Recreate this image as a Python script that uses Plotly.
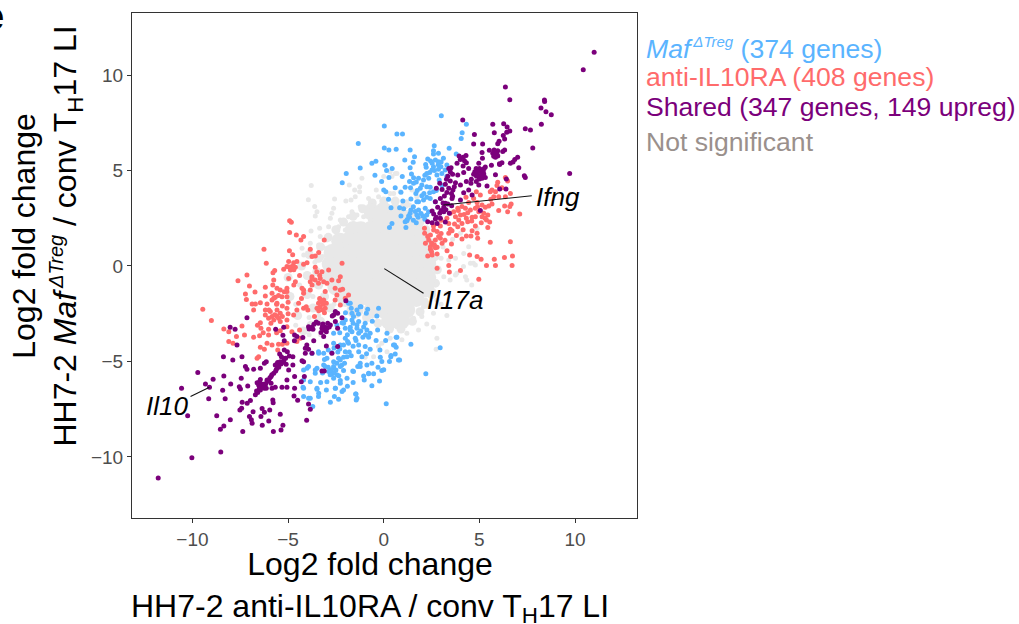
import plotly.graph_objects as go

tick_values = [-10, -5, 0, 5, 10]

shared_up = [(11.0,11.2),(10.43,10.28),(6.36,9.37),(6.59,8.71),(8.4,8.69),(8.41,8.62),(8.22,8.27),(8.48,8.08),(8.76,7.92),(8.24,7.42),
(7.4,7.19),(7.67,7.12),(4.13,7.64),(5.7,7.42),(6.27,7.45),(6.45,7.28),(6.59,7.07),(6.43,7.0),(5.78,6.98),(6.25,6.84),(4.74,6.89),
(6.32,6.65),(6.03,6.53),(5.96,6.4),(4.7,6.39),(5.17,6.39),(7.79,6.18),(5.52,6.06),(5.77,6.07),(5.96,6.04),(6.22,6.0),(6.32,6.07),
(5.14,5.95),(5.7,5.9),(5.92,5.85),(5.84,5.69),(5.96,5.76),(7.0,5.69),(6.85,5.58),(6.76,5.45),(6.62,5.38),(7.06,5.15),(3.94,5.76),
(4.3,5.78),(4.0,5.58),(4.22,5.51),(4.32,5.41),(5.16,5.64),(4.97,5.38),(4.83,5.11),(5.0,5.11),(5.31,5.18),(5.63,5.27),(6.06,5.32),
(6.18,5.41),(5.84,4.78),(6.41,4.55),(7.35,4.73),(7.4,4.64),(9.72,4.85),(4.76,4.94),(4.88,4.85),(5.09,4.94),(4.7,4.8),(5.23,4.82),
(5.31,4.64),(5.14,4.59),(4.97,4.71),(4.58,4.54),(4.32,4.42),(4.84,4.42),(4.97,4.24),(5.4,4.19),(4.56,4.33),(4.01,4.24),(3.75,4.36),
(3.48,4.45),(3.22,4.28),(2.93,4.33),(3.69,4.15),(3.4,4.07),(3.62,3.98),(2.75,4.07),(4.44,3.98),(4.18,3.84),(4.62,3.72),(6.06,4.03),
(6.39,4.03),(3.54,3.8),(2.96,3.54),(2.7,3.37),(3.17,3.66),(3.57,3.54),(4.01,3.46),(3.22,3.28),(3.14,3.07),(2.82,3.07),(2.53,2.88),
(2.61,2.72),(2.93,2.76),(3.14,2.84),(3.43,2.76),(5.05,2.9),(2.3,2.32),(2.53,2.27),(2.79,2.23),(3.22,2.3),(2.96,2.5),(2.7,2.46),
(3.83,5.38),(3.4,5.11),(3.52,5.15),(3.48,4.94),(4.18,4.89),(3.87,4.76),(3.28,4.54),(4.15,5.24),(4.44,5.11),
(5.05,5.05),(5.2,4.95),(4.95,4.95),(5.15,4.75),(4.85,4.7),(5.0,4.55),(5.25,5.1),(4.15,5.7),(5.75,5.75),(5.85,5.95),(6.05,5.35),
(3.35,3.25),(3.1,3.3),(3.25,2.95),(3.0,2.9),(3.55,3.15),(3.6,4.8),(3.35,4.7),(3.6,3.65),(3.05,4.0),(3.3,3.85),(2.75,2.55)]

shared_down = [(-11.79,-11.1),(-10.03,-10.05),(-8.52,-9.74),(-9.72,-5.58),(-10.57,-6.4),(-10.25,-7.85),(-9.15,-6.95),(-9.11,-6.35),
(-9.32,-6.18),(-8.92,-5.93),(-8.36,-5.76),(-8.38,-4.75),(-7.41,-4.75),(-7.89,-4.92),(-8.0,-6.18),(-8.42,-6.51),(-8.29,-6.96),
(-7.55,-6.32),(-7.49,-6.44),(-7.11,-6.28),(-8.73,-7.85),(-8.02,-8.05),(-8.36,-8.38),(-8.54,-8.55),(-7.37,-8.67),(-7.02,-7.89),
(-6.83,-7.63),(-6.92,-8.06),(-6.88,-8.24),(-6.35,-8.34),(-6.01,-8.12),(-6.24,-7.66),(-6.42,-7.89),(-5.96,-7.54),(-5.41,-7.77),
(-5.27,-8.34),(-5.37,-8.59),(-5.77,-8.67),(-7.52,-7.54),(-7.43,-7.45),(-7.4,-7.14),(-7.14,-7.19),(-6.97,-7.05),(-6.36,-7.47),
(-5.8,-7.02),(-5.78,-7.16),(-4.03,-8.08),(-3.84,-7.5),(-3.93,-7.23),(-4.5,-7.03),(-4.69,-6.81),(-4.66,-6.4),(-4.31,-6.06),
(-4.15,-5.79),(-4.66,-5.79),(-5.06,-5.97),(-5.32,-6.35),(-5.06,-6.35),(-5.67,-6.35),(-5.84,-6.4),(-6.71,-6.75),(-6.59,-6.63),
(-6.45,-6.49),(-6.31,-6.32),(-6.17,-6.18),(-6.02,-6.0),(-5.89,-5.79),(-5.75,-5.62),(-5.61,-5.41),(-5.49,-5.31),(-5.37,-5.13),
(-5.23,-4.96),(-5.13,-4.83),(-5.41,-5.01),(-5.67,-5.18),(-6.62,-6.11),(-6.49,-6.06),(-6.36,-6.23),(-6.54,-6.23),(-6.14,-6.4),
(-6.1,-5.97),(-5.89,-6.14),(-5.2,-4.4),(-5.04,-4.49),(-4.94,-4.71),(-4.75,-4.75),(-5.44,-4.61),(-5.49,-5.13),(-4.75,-5.18),
(-4.97,-5.45),(-6.14,-5.01),(-6.24,-5.1),(-6.45,-5.36),(-6.8,-5.41),(-7.23,-5.27),(-7.15,-5.41),(-7.45,-5.88),(-7.15,-2.71),
(-8.03,-3.21),(-7.77,-3.32),(-7.67,-4.14),(-5.65,-3.32),(-5.23,-3.21),(-5.27,-3.63),(-4.66,-3.61),(-4.54,-3.7),(-4.23,-3.75),
(-4.67,-3.91),(-5.2,-3.91),(-4.02,-4.14),(-4.1,-4.31),(-3.93,-4.36),(-3.75,-4.57),(-4.1,-4.57),(-4.27,-4.96),(-4.19,-5.01),
(-3.66,-3.91),(-3.93,-3.18),(-3.75,-3.21),(-3.7,-3.32),(-3.53,-2.93),(-3.42,-3.0),(-3.18,-3.04),(-2.93,-3.0),(-2.79,-3.09),
(-3.23,-3.26),(-3.06,-3.21),(-3.28,-3.49),(-3.14,-3.7),(-2.97,-3.26),(-2.69,-2.62),(-2.53,-2.39),(-2.41,-2.48),(-2.62,-2.57),
(-2.18,-2.71),(-1.98,-1.82),(-2.53,-2.91),(-2.41,-3.26),(-3.0,-4.19),(-2.41,-4.22),(-2.71,-4.57),(-3.23,-5.5),(-3.11,-5.5),
(-6.65,-6.55),(-6.5,-6.4),(-6.3,-6.2),(-6.1,-6.05),(-5.95,-5.85),(-5.85,-5.7),(-5.65,-5.5),(-5.5,-5.25),(-5.3,-5.05),(-5.2,-4.85),
(-6.5,-6.15),(-6.45,-5.95),(-6.25,-6.4),(-5.55,-5.05),(-5.35,-4.75),(-5.1,-5.15),(-3.1,-3.35),(-3.2,-3.15),(-3.0,-3.45),(-2.85,-3.2),
(-3.65,-3.05),(-3.9,-3.3)]

maf_up = [(3.01,7.87),(4.32,7.42),(0.03,7.33),(0.69,6.91),(0.98,6.91),(-1.33,6.42),(0.03,6.18),(0.27,6.07),(0.65,6.11),(1.38,6.07),
(1.61,5.72),(2.64,6.3),(4.1,6.98),(4.05,6.68),(3.42,6.16),(2.6,6.04),(2.6,5.86),(2.86,5.9),(3.79,5.86),(1.1,5.55),(1.54,5.43),
(-0.62,5.38),(-0.41,5.48),(-1.23,5.13),(0.06,5.27),(0.44,5.11),(1.38,5.15),(2.19,5.32),(2.22,5.17),(2.53,5.38),(2.6,5.2),(2.86,5.46),
(3.12,5.64),(2.99,5.2),(3.3,5.29),(3.21,5.03),(2.86,5.06),(2.52,5.03),(-1.96,4.85),(-2.17,4.36),(-0.46,4.75),(0.27,4.64),(0.97,4.68),
(-0.11,4.43),(1.45,4.82),(1.56,4.62),(1.82,4.59),(2.08,4.5),(2.35,4.59),(1.35,4.42),(1.56,4.33),(1.99,4.24),(2.25,4.15),(1.12,4.12),
(0.0,3.98),(0.11,3.89),(0.9,3.86),(1.68,3.8),(2.43,4.12),(2.6,3.89),(1.99,3.68),(0.25,3.49),(1.42,3.51),(1.73,3.37),(2.08,3.46),
(2.43,3.54),(0.38,3.05),(0.83,3.05),(1.04,3.0),(1.42,2.93),(1.82,2.93),(2.17,3.02),(1.38,2.76),(0.9,2.62),(1.35,2.55),(1.8,2.55),
(2.05,2.62),(2.25,2.67),(1.23,2.44),(1.12,2.32),(1.7,2.27),(0.43,2.23),(0.3,2.01),(1.16,2.02),(1.21,2.37),(1.3,2.62),(1.91,4.07),
(2.25,4.85),(2.78,4.76),(3.04,4.85),(2.4,3.84),(2.69,3.37),(2.34,2.84),(1.82,3.37),(1.73,2.67),
(2.3,5.6),(2.45,5.5),(2.7,5.55),(2.85,5.3),(3.0,5.45),(2.65,5.0),(2.4,4.9),(2.15,4.75),(1.7,4.4),(1.4,4.1),(1.75,3.95),(2.1,3.8),
(2.25,3.6),(1.55,3.1),(1.65,2.85),(1.95,2.75),(2.15,2.45),(1.55,2.4),(1.0,3.4),(0.6,4.1),(0.15,5.0),(3.3,4.7),(2.9,4.5),(3.05,4.2),(2.75,3.95)]

maf_down = [(-1.84,-1.95),(-1.7,-2.22),(-1.19,-2.13),(-0.84,-2.27),(-0.27,-2.22),(-0.36,-2.62),(-0.91,-2.48),(-1.66,-2.48),(-2.01,-2.83),
(-2.18,-2.97),(-1.66,-2.83),(-1.31,-2.91),(-0.97,-3.0),(-1.4,-3.09),(-1.75,-3.21),(-2.01,-3.26),(-2.45,-3.09),(-2.62,-3.53),(-1.66,-3.44),
(-1.31,-3.53),(-0.88,-3.35),(-0.71,-3.53),(-0.32,-3.35),(-0.79,-3.73),(-1.09,-3.73),(-1.49,-3.79),(-2.01,-3.79),(-1.84,-4.05),(-2.1,-4.14),
(-2.62,-4.05),(-1.31,-4.14),(-0.97,-4.22),(-0.71,-4.36),(0.17,-3.53),(0.65,-3.73),(0.51,-4.14),(0.65,-4.26),(1.42,-4.1),(2.95,-4.28),
(-2.01,-4.49),(-1.31,-4.49),(-1.14,-4.75),(-2.71,-4.54),(-2.36,-4.83),(-2.1,-4.78),(-2.62,-5.01),(-2.97,-4.83),(-3.4,-4.57),(-3.75,-4.57),
(-0.18,-4.78),(0.37,-4.75),(0.6,-4.61),(0.83,-4.92),(-0.62,-5.1),(-0.88,-5.18),(-0.1,-5.0),(-1.23,-5.1),(-3.14,-5.18),(-3.49,-5.36),
(-2.62,-5.36),(-2.27,-5.27),(-2.45,-5.1),(-2.1,-5.48),(-2.88,-5.53),(-2.71,-5.65),(-3.58,-5.62),(-2.45,-5.7),(-4.01,-5.36),(-1.62,-5.5),
(-1.36,-5.27),(-1.05,-5.76),(-0.79,-5.65),(-0.53,-5.65),(-0.1,-5.48),(-0.22,-6.02),(-0.62,-6.27),(2.2,-5.65),(-1.92,-5.88),(-2.27,-6.0),
(-2.62,-5.88),(-2.97,-6.06),(-3.84,-6.06),(-4.19,-5.97),(-4.22,-6.35),(-3.49,-6.46),(-3.4,-6.67),(-2.53,-6.41),(-2.18,-6.58),(-2.58,-6.84),
(-1.45,-6.7),(-4.19,-6.84),(-3.84,-6.93),(-1.4,-6.93),(0.13,-7.22),(-1.44,-7.02),(-1.47,-6.7),(-2.79,-7.14),(-2.36,-6.98),(-2.1,-6.49),
(-3.49,-6.4),(-4.19,-6.4),(-3.93,-6.93),(-3.71,-7.36),(-3.41,-6.84),(-2.53,-6.4),(-2.27,-6.14),(-1.02,-5.97),(-0.79,-5.62),(-1.58,-5.53),
(-1.23,-5.27),(0.0,-5.44),(0.69,-3.73),(0.57,-4.14),(0.77,-4.92),(0.38,-4.69),(-4.19,-5.45),(-3.93,-5.27),(-3.41,-4.49),(-3.14,-4.57),
(-3.58,-5.45),(-2.71,-5.62),(-3.06,-5.27),(-2.62,-5.27),(-2.27,-4.92),(-1.92,-4.75),(-2.27,-4.14),(-1.89,-3.96),(-1.58,-2.65),(-1.23,-2.13),
(-1.75,-1.95),(-1.32,-2.51),(-1.4,-3.26),(-1.75,-3.35),(-2.1,-3.0),
(-2.9,-5.3),(-2.75,-5.45),(-2.6,-5.6),(-2.5,-5.45),(-2.35,-5.75),(-2.8,-5.7),(-3.2,-5.6),(-2.2,-5.2),(-2.05,-5.1),(-2.4,-4.5),(-2.3,-4.35),
(-2.6,-4.3),(-1.8,-4.5),(-1.6,-4.2),(-1.45,-3.9),(-1.2,-3.4),(-1.05,-3.2),(-1.9,-3.6),(-1.6,-3.0),(-2.3,-3.5),(-2.0,-2.45),(-1.4,-2.3),
(-0.6,-2.9),(-0.95,-3.6),(-0.4,-3.9),(-0.2,-4.4),(-1.7,-4.7),(-2.9,-4.4),(-3.1,-4.9),(-3.3,-6.1),(-3.0,-6.5),(-1.9,-6.3),(-1.6,-6.1),
(-0.9,-4.6),(-0.3,-5.3),(0.3,-5.0),(0.1,-3.9)]

il10ra_up = [(6.36,4.64),(5.96,4.38),(6.48,4.45),(5.92,4.21),(6.18,4.1),(5.66,3.98),(5.84,3.89),(4.84,3.89),(5.05,3.72),(5.75,3.63),
(6.01,3.63),(6.36,3.63),(6.62,3.8),(4.7,3.54),(4.44,3.32),(4.88,3.32),(5.14,3.19),(5.66,3.25),(6.66,3.25),(6.32,3.14),(6.59,3.11),
(4.09,3.11),(4.27,3.02),(3.87,3.02),(3.66,2.84),(5.31,3.07),(5.49,3.14),(6.01,2.9),(6.48,2.84),(7.11,2.72),(4.39,2.79),(4.01,2.67),
(3.75,2.58),(4.32,2.5),(4.62,2.55),(5.14,2.58),(5.44,2.67),(5.37,2.41),(5.54,2.3),(5.1,2.27),(4.39,2.32),(4.79,2.09),(5.44,2.02),
(3.4,2.23),(2.96,2.09),(3.57,1.85),(3.4,1.71),(3.87,2.06),(2.13,1.97),(2.14,1.71),(2.44,1.62),(2.79,1.8),(2.35,1.36),(2.7,1.36),
(2.96,1.45),(2.18,1.19),(2.53,1.15),(3.05,1.19),(2.44,0.87),(2.79,0.98),(3.31,0.8),(2.3,0.52),(2.53,0.58),(2.79,0.63),(3.54,1.15),
(4.09,1.41),(4.32,1.57),(4.56,1.57),(4.88,1.71),(4.91,1.45),(4.62,1.85),(5.57,1.24),(6.62,1.27),(6.73,0.52),(6.31,0.44),(5.78,0.35),
(4.49,0.58),(4.88,0.49),(5.09,0.35),(5.37,0.02),(5.84,0.02),(6.71,0.02),(3.4,0.02),(2.79,-0.12),(4.01,-0.24),(3.43,-0.31),(4.97,-0.7),
(3.48,2.76),(3.92,2.41),(4.53,2.93),(4.09,2.23),(4.97,2.84),(2.61,1.88),(2.87,1.54),(2.44,1.01),(4.79,2.58),(3.48,1.92),(5.23,2.76),
(5.57,3.89),(4.79,3.02),(3.0,2.4),(3.3,2.5),(3.7,2.2),(4.2,2.7),(4.6,2.35),(4.15,1.9),(3.8,1.6),(3.0,1.7),(2.6,2.1),(2.3,1.55),(2.5,1.2),
(2.7,0.95),(2.5,0.75),(2.65,1.1),(3.2,1.35),(3.5,0.5),(4.9,3.1),(5.3,2.5),(5.6,3.5),(4.3,3.6),(3.9,2.9)]

il10ra_down = [(-4.92,2.37),(-4.83,2.29),(-4.92,1.75),(-4.57,1.62),(-4.19,1.54),(-4.33,1.36),(-3.11,1.36),(-6.26,0.87),(-4.93,0.8),
(-4.76,0.59),(-3.84,0.87),(-3.4,0.7),(-3.58,0.52),(-3.75,0.49),(-6.14,0.14),(-4.97,0.23),(-4.71,0.17),(-4.54,0.23),(-4.19,0.09),
(-4.01,0.17),(-2.18,0.14),(-5.06,-0.03),(-4.62,-0.07),(-5.23,-0.17),(-4.88,-0.21),(-5.7,-0.24),(-5.79,-0.35),(-3.58,-0.07),(-3.23,-0.3),
(-2.88,-0.21),(-7.15,-0.47),(-7.62,-0.77),(-7.02,-1.05),(-5.75,-0.73),(-4.97,-0.65),(-4.62,-0.82),(-3.75,-0.56),(-3.84,-0.82),(-3.32,-0.65),
(-3.14,-0.82),(-2.97,-0.91),(-2.71,-0.73),(-2.36,-0.77),(-2.27,-0.56),(-5.58,-1.17),(-5.41,-1.26),(-5.06,-1.17),(-6.19,-1.12),(-6.73,-1.36),
(-7.23,-1.47),(-7.18,-1.75),(-4.27,-1.17),(-4.19,-1.43),(-3.84,-1.26),(-3.06,-1.34),(-2.54,-1.17),(-2.15,-1.22),(-2.45,-1.52),(-1.84,-1.52),
(-2.01,-1.69),(-5.84,-1.43),(-5.67,-1.64),(-5.32,-1.61),(-5.84,-1.78),(-5.06,-1.61),(-6.19,-1.57),(-6.88,-1.99),(-6.71,-1.99),(-6.45,-1.92),
(-6.1,-1.99),(-5.58,-1.95),(-4.45,-1.95),(-4.19,-2.22),(-3.41,-1.95),(-3.14,-1.78),(-3.32,-2.13),(-3.06,-2.22),(-2.54,-1.78),(-2.27,-2.04),
(-9.46,-2.27),(-9.01,-2.86),(-6.8,-2.3),(-6.19,-2.3),(-5.93,-2.39),(-5.58,-2.3),(-5.41,-2.48),(-5.06,-2.22),(-4.54,-2.3),(-6.19,-2.57),
(-5.84,-2.65),(-5.5,-2.74),(-5.06,-2.83),(-4.71,-2.57),(-3.97,-2.3),(-3.62,-2.65),(-6.45,-2.97),(-7.41,-3.14),(-6.42,-3.26),(-6.02,-3.32),
(-8.36,-3.3),(-8.1,-3.44),(-7.28,-3.61),(-7.7,-3.7),(-6.8,-3.73),(-6.49,-3.66),(-6.02,-3.61),(-8.1,-3.96),(-7.88,-4.05),(-6.1,-4.05),
(-6.45,-4.26),(-6.24,-4.36),(-5.84,-4.14),(-5.54,-4.4),(-6.62,-4.83),(-6.54,-4.75),(-5.06,-4.05),(-4.54,-3.96),(-4.36,-3.79),(-4.4,-3.35),
(-4.8,-3.44),(-5.41,-3.39),(-5.06,-3.18),(-3.32,-1.78),(-3.23,-1.87),(-3.49,-2.22),(-3.18,-2.3),(-5.58,-2.62),(-6.02,-2.74),(-5.75,-2.83),
(-5.41,-2.91),(-5.06,-1.34),(-5.75,-1.69),(-4.8,-0.03),(-3.58,-0.73),(-3.41,-0.91),(-2.27,-1.26),(-3.75,-0.99),(-4.19,-1.26),(-4.05,-2.13),
(-5.8,-1.0),(-5.5,-1.55),(-5.2,-1.35),(-5.0,-1.9),(-5.3,-2.1),(-5.6,-2.0),(-6.0,-2.3),(-5.7,-2.55),(-5.3,-2.65),(-5.0,-2.5),(-4.7,-1.0),
(-4.4,-0.5),(-4.7,-0.2),(-4.95,-0.05),(-4.3,-1.7),(-3.5,-0.3),(-3.35,-0.5),(-3.15,-2.0),(-3.35,-1.7),(-3.0,-1.95),(-3.1,-2.45),(-3.4,-2.35),
(-3.75,-0.65),(-6.3,-3.5),(-6.6,-3.1),(-5.9,-3.0),(-5.6,-3.5),(-5.3,-4.1),(-5.5,-4.1)]

not_significant = [(-3.79,4.21),(-3.94,3.47),(-3.61,3.12),(-3.49,2.84),(-3.58,2.62),(-3.8,1.83),(-3.35,1.97),(-2.71,2.76),(-2.62,3.02),
(-2.57,3.51),(-1.98,3.4),(-1.71,3.46),(-1.49,3.63),(-1.8,4.24),(-1.26,4.15),(-1.52,3.98),(-1.14,4.59),(-1.26,3.89),(-0.79,3.54),(-0.39,3.98),
(0.34,4.94),(0.69,4.85),(0.0,4.68),(0.43,4.68),(0.86,3.89),(0.34,3.8),(-0.27,3.63),(-0.53,3.37),(-1.23,3.1),(-1.66,2.84),(-1.84,2.58),
(-2.27,2.41),(-2.36,2.06),(-2.79,2.5),(-2.88,2.06),(-3.32,1.54),(-3.84,1.19),(-4.27,0.93),(-4.18,0.58),(-0.79,3.11),(-0.18,3.02),(0.25,2.93),
(0.6,3.19),(0.69,2.84),(1.21,3.37),(1.35,3.19),(-1.4,2.67),(-1.05,2.58),(-0.7,2.41),(0.0,2.5),(0.51,2.41),(0.86,2.23),(-1.58,2.23),
(-2.01,1.88),(-2.45,1.71),(-2.97,1.36),(-3.4,1.1),(-2.97,0.93),(1.73,2.06),(1.56,1.71),(1.47,3.98),(1.73,3.63),(0.09,5.29),(0.61,4.85),
(0.52,3.8),(4.53,0.14),(4.44,1.01),(4.01,1.71),(4.88,1.97),(4.18,0.66),(3.75,0.4),(3.4,0.31),(4.79,0.05),(4.27,-0.56),(3.75,-0.47),
(3.14,-0.56),(2.26,-0.56),(2.61,0.31),(2.74,-4.36),(2.78,-3.79),(2.6,-3.21),(2.25,-3.04),(1.82,-3.35),(1.56,-2.74),(1.21,-2.83),(1.21,-3.53),
(0.69,-3.18),(0.95,-3.87),(0.34,-3.79),(0.17,-4.49),(-0.27,-4.22),(-0.53,-4.75),(-0.97,-4.78),(-0.1,-4.05),(1.99,-2.65),(2.6,-2.48),
(2.08,-2.13),(2.78,-1.78),(2.08,-1.26),(3.47,-0.73),(4.34,-0.73),(4.6,-0.99),(3.82,-0.38),(3.3,-1.43),(2.43,-0.73),(2.78,-0.91),(4.69,0.14),
(4.17,-0.03),(-3.2,0.5),(-3.6,0.2),(-3.0,0.1),(-2.7,0.6),(-3.3,-0.4),(-2.9,-0.6),(-3.6,-1.0),(-3.0,-1.6),(-3.7,-1.6),(-4.4,-1.0),(-4.6,-2.0),
(-3.9,-2.7),(-3.4,-2.6),(-3.9,-3.6),(-3.3,-3.6),(-4.6,-3.1),(-2.6,-2.0),(-2.2,1.1),(-2.5,0.4),(-2.6,-0.2),(3.1,1.0),(3.6,1.4),(3.0,0.4),(2.4,0.0),
(2.6,-1.3),(3.0,-2.0),(3.3,-2.6),(2.2,-1.8),(2.2,-0.3),(2.0,1.1),(2.0,1.6)]

not_significant_mid = [(-3.3,1.0),(-2.9,1.5),(-2.5,1.9),(-2.1,2.3),(-1.6,2.6),(-1.1,3.0),(-0.6,3.3),(0.0,3.4),(0.6,3.4),(1.1,3.2),(1.5,2.8),
(1.9,2.3),(2.2,1.9),(2.5,1.2),(2.7,0.5),(2.8,-0.2),(2.7,-0.9),(2.5,-1.5),(2.2,-2.0),(1.9,-2.4),(1.5,-2.9),(0.9,-3.3),(0.3,-3.3),(-0.3,-3.0),
(-0.9,-2.7),(-3.4,0.4),(-3.5,-0.3),(-3.4,-1.0),(-3.1,-1.6),(-2.8,-2.2),(-3.7,-2.2),(-4.0,-1.5),(-4.0,-0.5),(-4.3,0.0),(-3.9,0.6),(-3.3,-2.9),
(-3.8,-3.1),(-4.2,-3.4),(-4.5,-2.6),(-4.9,-1.6),(-5.0,-0.6)]

not_significant_core = [(-0.6,2.8),(0.0,2.9),(0.6,2.8),(1.1,2.5),(1.6,2.1),(-0.3,2.4),(0.3,2.4),(0.8,2.4),(-1.2,1.9),(-0.7,1.9),(-0.1,1.9),
(0.5,1.9),(1.0,1.9),(1.4,1.9),(-1.6,1.9),(-2.3,1.3),(-1.9,1.3),(-1.4,1.3),(-0.8,1.3),(-0.2,1.3),(0.4,1.3),(1.0,1.3),(1.6,1.3),(2.0,1.5),
(-2.7,0.7),(-2.2,0.7),(-1.7,0.7),(-1.1,0.7),(-0.5,0.7),(0.1,0.7),(0.7,0.7),(1.3,0.7),(1.8,0.7),(2.2,0.8),(-2.8,0.1),(-2.3,0.1),(-1.7,0.1),
(-1.1,0.1),(-0.5,0.1),(0.1,0.1),(0.7,0.1),(1.3,0.1),(1.9,0.1),(2.3,0.1),(-2.8,-0.5),(-2.3,-0.5),(-1.7,-0.5),(-1.1,-0.5),(-0.5,-0.5),(0.1,-0.5),
(0.7,-0.5),(1.3,-0.5),(1.9,-0.5),(2.3,-0.6),(-2.5,-1.1),(-1.9,-1.1),(-1.3,-1.1),(-0.7,-1.1),(-0.1,-1.1),(0.5,-1.1),(1.1,-1.1),(1.6,-1.1),
(2.2,-1.2),(-2.0,-1.7),(-1.3,-1.7),(-0.7,-1.7),(-0.1,-1.7),(0.5,-1.7),(1.1,-1.7),(1.7,-1.7),(-1.5,-2.3),(-0.6,-2.3),(0.0,-2.3),(0.6,-2.3),
(1.2,-2.3),(0.3,-2.9),(0.9,-2.9)]

il17a_leader = [(0.03,-0.14),(2.08,-1.43)]
ifng_leader = [(3.12,3.19),(7.74,3.68)]
il10_leader = [(-10.1,-6.84),(-9.11,-6.35)]

BLUE = "#5AB4FF"
RED = "#FF6B6B"
PURPLE = "#7B007B"
GREY = "#E8E8E8"


def dots(points, color, size=5):
    return go.Scatter(x=[p[0] for p in points], y=[p[1] for p in points], mode="markers",
                      marker=dict(color=color, size=size, line=dict(width=0)), showlegend=False, hoverinfo="skip")


def leader(points):
    return go.Scatter(x=[p[0] for p in points], y=[p[1] for p in points], mode="lines",
                      line=dict(color="#111111", width=1.1), showlegend=False, hoverinfo="skip")


fig = go.Figure()
fig.add_trace(dots(not_significant_core, GREY, 17))
fig.add_trace(dots(not_significant_mid, GREY, 9))
fig.add_trace(dots(not_significant, GREY))
fig.add_trace(dots(maf_up + maf_down, BLUE))
fig.add_trace(dots(il10ra_up + il10ra_down, RED))
fig.add_trace(dots(shared_up + shared_down, PURPLE))
for seg in (il17a_leader, ifng_leader, il10_leader):
    fig.add_trace(leader(seg))

L, R, T, B = 131.5, 637, 13, 518
W, H = 1019, 624


def px(x):
    return (x - L) / (R - L)


def py(y):
    return (B - y) / (B - T)


font = "Liberation Sans, Arial, sans-serif"
ann = []
for text, color, y in [
    ("<i>Maf</i><sup><span style=\"font-size:15px\"><i>\u2009ΔTreg</i></span></sup> (374 genes)", BLUE, 49),
    ("anti-IL10RA (408 genes)", RED, 77),
    ("Shared (347 genes, 149 upreg)", PURPLE, 107),
    ("Not significant", "#9A908C", 142),
]:
    ann.append(dict(text=text, xref="paper", yref="paper", x=px(644), y=py(y), xanchor="left", yanchor="middle",
                    showarrow=False, font=dict(size=26.6, color=color, family=font)))
for text, x, y, anchor in [("<i>Ifng</i>", 7.87, 3.6, "left"), ("<i>Il17a</i>", 2.17, -1.78, "left"),
                           ("<i>Il10</i>", -10.15, -7.33, "right")]:
    ann.append(dict(text=text, x=x, y=y, xref="x", yref="y", xanchor=anchor, yanchor="middle", showarrow=False,
                    font=dict(size=26, color="black", family=font)))
ann.append(dict(text="Log2 fold change<br>HH7-2 anti-IL10RA / conv T<sub>H</sub>17 LI", xref="paper", yref="paper",
                x=px(370), y=py(587), xanchor="center", yanchor="middle", showarrow=False, align="center",
                font=dict(size=32, color="black", family=font)))
ann.append(dict(text="Log2 fold change<br>HH7-2 <i>Maf</i><sup><span style=\"font-size:20px\"><i>\u2009ΔTreg</i></span></sup> / conv T<sub>H</sub>17 LI",
                xref="paper", yref="paper", x=px(46), y=py(236), xanchor="center", yanchor="middle", showarrow=False,
                align="center", textangle=-90, font=dict(size=32, color="black", family=font)))
ann.append(dict(text="<b>e</b>", xref="paper", yref="paper", x=px(-21), y=py(16), xanchor="left", yanchor="middle",
                showarrow=False, font=dict(size=40, color="black", family=font)))

axis = dict(tickvals=tick_values, showgrid=False, zeroline=False, showline=True, mirror=True, linecolor="#333333",
            linewidth=1, ticks="outside", ticklen=4, tickcolor="#333333", tickwidth=1,
            tickfont=dict(size=19, color="#4D4D4D", family=font))
fig.update_layout(width=W, height=H, margin=dict(l=L, r=W - R, t=T, b=H - B, pad=0), paper_bgcolor="white",
                  plot_bgcolor="white", annotations=ann, showlegend=False,
                  xaxis=dict(range=[-13.16, 13.24], **axis), yaxis=dict(range=[-13.2, 13.25], **axis))
fig.write_html("out.html", config=dict(displayModeBar=False),
               post_script="document.body.style.margin='0';document.body.style.overflow='hidden';")
